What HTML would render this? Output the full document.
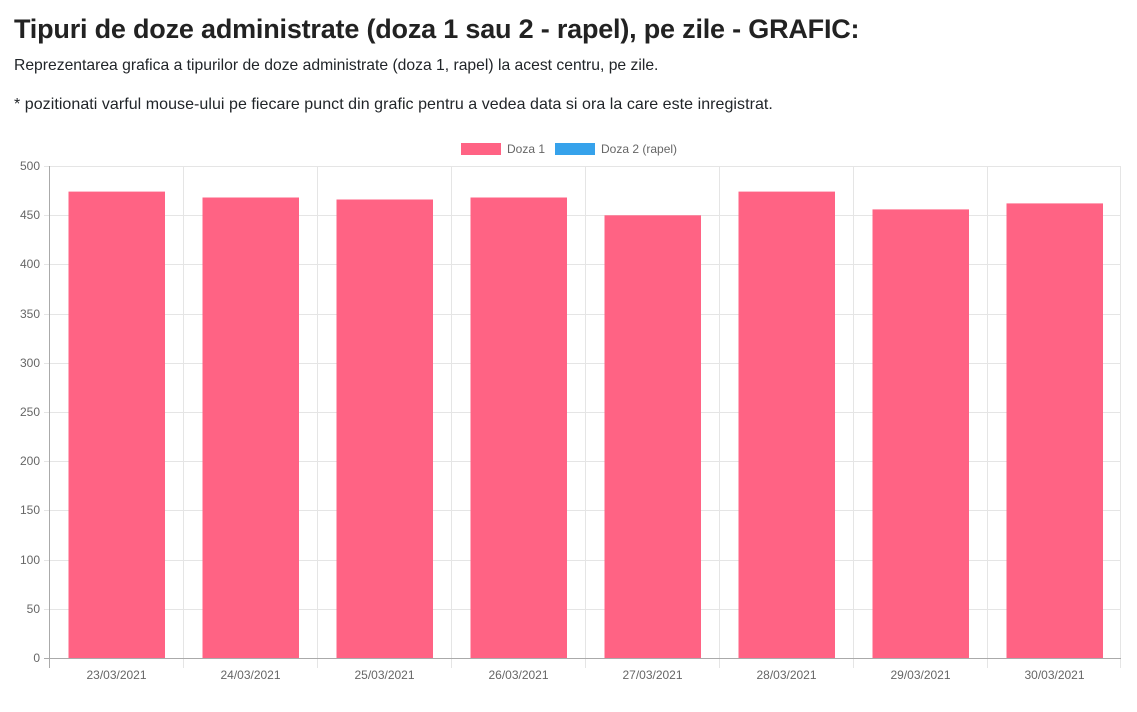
<!DOCTYPE html>
<html><head><meta charset="utf-8"><style>
body{margin:0;background:#fff;width:1137px;height:712px;overflow:hidden;font-family:"Liberation Sans",sans-serif;color:#212529}
h1{position:absolute;left:14px;top:14px;margin:0;font-size:27px;font-weight:bold;letter-spacing:-0.2px;color:#222}
p{position:absolute;left:14px;margin:0;font-size:15.7px}
</style></head><body>
<h1>Tipuri de doze administrate (doza 1 sau 2 - rapel), pe zile - GRAFIC:</h1>
<p style="top:57px">Reprezentarea grafica a tipurilor de doze administrate (doza 1, rapel) la acest centru, pe zile.</p>
<p style="top:96px;font-size:16px;letter-spacing:0.05px">* pozitionati varful mouse-ului pe fiecare punct din grafic pentru a vedea data si ora la care este inregistrat.</p>
<svg width="1137" height="712" style="position:absolute;left:0;top:0" font-family="Liberation Sans, sans-serif" font-size="12" fill="#666">
<rect x="461" y="143" width="40" height="12" fill="#ff6384"/>
<text x="507" y="153">Doza 1</text>
<rect x="555" y="143" width="40" height="12" fill="#36a2eb"/>
<text x="601" y="153">Doza 2 (rapel)</text>
<g stroke="#e5e5e5" stroke-width="1">
<line x1="44" x2="1121" y1="166.5" y2="166.5"/><line x1="44" x2="1121" y1="215.5" y2="215.5"/>
<line x1="44" x2="1121" y1="264.5" y2="264.5"/><line x1="44" x2="1121" y1="314.5" y2="314.5"/>
<line x1="44" x2="1121" y1="363.5" y2="363.5"/><line x1="44" x2="1121" y1="412.5" y2="412.5"/>
<line x1="44" x2="1121" y1="461.5" y2="461.5"/><line x1="44" x2="1121" y1="510.5" y2="510.5"/>
<line x1="44" x2="1121" y1="560.5" y2="560.5"/><line x1="44" x2="1121" y1="609.5" y2="609.5"/>
<line x1="183.5" x2="183.5" y1="166" y2="668"/><line x1="317.5" x2="317.5" y1="166" y2="668"/>
<line x1="451.5" x2="451.5" y1="166" y2="668"/><line x1="585.5" x2="585.5" y1="166" y2="668"/>
<line x1="719.5" x2="719.5" y1="166" y2="668"/><line x1="853.5" x2="853.5" y1="166" y2="668"/>
<line x1="987.5" x2="987.5" y1="166" y2="668"/><line x1="1120.5" x2="1120.5" y1="166" y2="668"/>
</g>
<g fill="#ff6384">
<rect x="68.5" y="191.6" width="96.5" height="466.9"/>
<rect x="202.5" y="197.5" width="96.5" height="461"/>
<rect x="336.5" y="199.5" width="96.5" height="459"/>
<rect x="470.5" y="197.5" width="96.5" height="461"/>
<rect x="604.5" y="215.3" width="96.5" height="443.2"/>
<rect x="738.5" y="191.6" width="96.5" height="466.9"/>
<rect x="872.5" y="209.4" width="96.5" height="449.1"/>
<rect x="1006.5" y="203.4" width="96.5" height="455.1"/>
</g>
<g stroke="#aaa"><line x1="49.5" x2="49.5" y1="166" y2="668"/><line x1="44" x2="1121" y1="658.5" y2="658.5"/></g>
<g text-anchor="end">
<text x="40" y="170">500</text><text x="40" y="219">450</text><text x="40" y="268">400</text>
<text x="40" y="318">350</text><text x="40" y="367">300</text><text x="40" y="416">250</text>
<text x="40" y="465">200</text><text x="40" y="514">150</text><text x="40" y="564">100</text>
<text x="40" y="613">50</text><text x="40" y="662">0</text>
</g>
<g text-anchor="middle">
<text x="116.5" y="679">23/03/2021</text><text x="250.5" y="679">24/03/2021</text>
<text x="384.5" y="679">25/03/2021</text><text x="518.5" y="679">26/03/2021</text>
<text x="652.5" y="679">27/03/2021</text><text x="786.5" y="679">28/03/2021</text>
<text x="920.5" y="679">29/03/2021</text><text x="1054.5" y="679">30/03/2021</text>
</g>
</svg>
</body></html>
